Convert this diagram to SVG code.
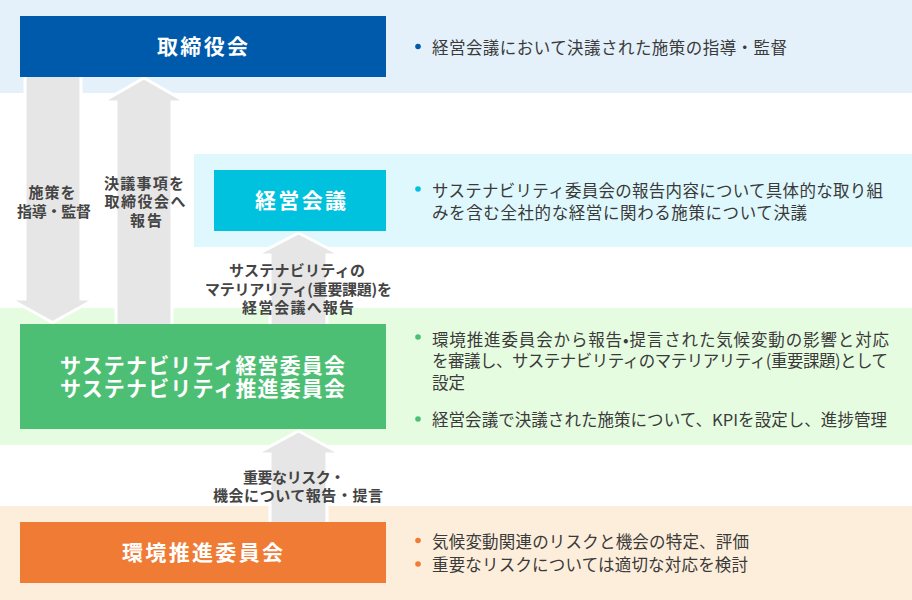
<svg xmlns="http://www.w3.org/2000/svg" width="912" height="600" viewBox="0 0 912 600">
<style>
text{font-family:"Noto Sans CJK JP","Noto Sans",sans-serif}
.title{font-size:21px;font-weight:700;fill:#fff;text-anchor:middle}
.lbl{font-size:15px;font-weight:700;fill:#444;text-anchor:middle}
.desc{font-size:16.5px;fill:#3a3a3a}
.arrow{fill:#e6e6e6;stroke:#fff;stroke-width:3;stroke-linejoin:miter}
</style>
<rect width="912" height="600" fill="#fff"/>
<g id="bands">
<rect x="0" y="0" width="912" height="93" fill="#e4f1fb"/>
<rect x="194" y="154" width="718" height="93" fill="#dff8fd"/>
<rect x="0" y="308" width="912" height="137" fill="#e6fce1"/>
<rect x="0" y="506" width="912" height="94" fill="#fdeedb"/>
</g>
<g id="connectors">
<polygon class="arrow" points="25,70 81,70 81,299 95,299 52.5,322.5 10,299 25,299"/>
<polygon class="arrow" points="144,78 186,102 172,102 172,330 116,330 116,102 102,102"/>
<polygon class="arrow" points="298.5,233 341,255 327,255 327,330 270,330 270,255 256,255"/>
<polygon class="arrow" points="298.5,431 341,454 327,454 327,530 270,530 270,454 256,454"/>
<text class="lbl" x="52" y="198" textLength="47" lengthAdjust="spacing">施策を</text>
<text class="lbl" x="54" y="217" textLength="74" lengthAdjust="spacing">指導・監督</text>
<text class="lbl" x="144" y="189" textLength="80" lengthAdjust="spacing">決議事項を</text>
<text class="lbl" x="145" y="207" textLength="81" lengthAdjust="spacing">取締役会へ</text>
<text class="lbl" x="146" y="225.5" textLength="32" lengthAdjust="spacing">報告</text>
<text class="lbl" x="297" y="276" textLength="136" lengthAdjust="spacing">サステナビリティの</text>
<text class="lbl" x="298.5" y="294.5" textLength="187" lengthAdjust="spacing">マテリアリティ(重要課題)を</text>
<text class="lbl" x="298" y="313" textLength="112" lengthAdjust="spacing">経営会議へ報告</text>
<text class="lbl" x="294" y="482.5" textLength="102" lengthAdjust="spacing">重要なリスク・</text>
<text class="lbl" x="298" y="500.5" textLength="170" lengthAdjust="spacing">機会について報告・提言</text>
</g>
<g id="node-board">
<rect x="20" y="16" width="366" height="61" fill="#005aab"/>
<text class="title" x="202.5" y="54" textLength="91" lengthAdjust="spacing">取締役会</text>
<circle cx="418" cy="46.5" r="2.8" fill="#005aab"/>
<text class="desc" x="432" y="53.5" textLength="355" lengthAdjust="spacing">経営会議において決議された施策の指導・監督</text>
</g>
<g id="node-management">
<rect x="214" y="170" width="172" height="61" fill="#00c1de"/>
<text class="title" x="300.5" y="208" textLength="91" lengthAdjust="spacing">経営会議</text>
<circle cx="418" cy="189" r="2.8" fill="#00c1de"/>
<text class="desc" x="432" y="197" textLength="451" lengthAdjust="spacing">サステナビリティ委員会の報告内容について具体的な取り組</text>
<text class="desc" x="432" y="219" textLength="375" lengthAdjust="spacing">みを含む全社的な経営に関わる施策について決議</text>
</g>
<g id="node-sustainability">
<rect x="20" y="324" width="366" height="105" fill="#4dbf74"/>
<text class="title" x="202.5" y="372.5" textLength="285" lengthAdjust="spacing">サステナビリティ経営委員会</text>
<text class="title" x="202.5" y="396" textLength="285" lengthAdjust="spacing">サステナビリティ推進委員会</text>
<circle cx="418" cy="337" r="2.8" fill="#4dbf74"/>
<text class="desc" x="432" y="345.5" textLength="457" lengthAdjust="spacing">環境推進委員会から報告•提言された気候変動の影響と対応</text>
<text class="desc" x="432" y="367" textLength="456" lengthAdjust="spacing">を審議し、サステナビリティのマテリアリティ(重要課題)として</text>
<text class="desc" x="432" y="389">設定</text>
<circle cx="418" cy="419" r="2.8" fill="#4dbf74"/>
<text class="desc" x="432" y="426" textLength="455" lengthAdjust="spacing">経営会議で決議された施策について、KPIを設定し、進捗管理</text>
</g>
<g id="node-environment">
<rect x="20" y="522" width="366" height="61" fill="#ef7b35"/>
<text class="title" x="202.5" y="559.5" textLength="161" lengthAdjust="spacing">環境推進委員会</text>
<circle cx="418" cy="540.5" r="2.8" fill="#ef7b35"/>
<text class="desc" x="432" y="548" textLength="317" lengthAdjust="spacing">気候変動関連のリスクと機会の特定、評価</text>
<circle cx="418" cy="564" r="2.8" fill="#ef7b35"/>
<text class="desc" x="432" y="571" textLength="316" lengthAdjust="spacing">重要なリスクについては適切な対応を検討</text>
</g>
</svg>
